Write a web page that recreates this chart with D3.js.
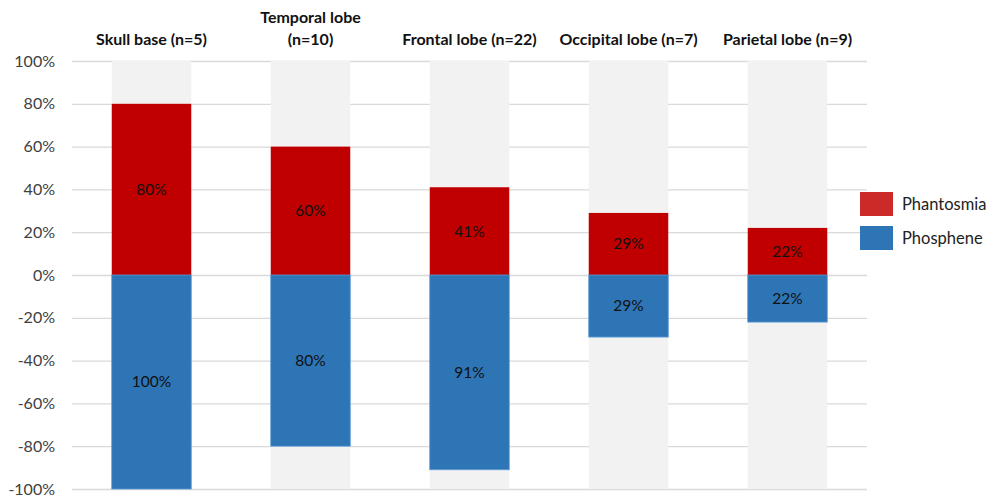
<!DOCTYPE html>
<html><head><meta charset="utf-8">
<script src="https://cdn.jsdelivr.net/npm/d3@7"></script>
<style>body{margin:0;background:#fff;} svg{display:block;font-family:Lato,"Open Sans",sans-serif;}</style>
</head><body>
<svg id="c" width="1000" height="497"></svg>
<script>
const categories = ["Skull base (n=5)", "Temporal lobe (n=10)", "Frontal lobe (n=22)", "Occipital lobe (n=7)", "Parietal lobe (n=9)"];
const categoryLines = [["Skull base (n=5)"], ["Temporal lobe", "(n=10)"], ["Frontal lobe (n=22)"], ["Occipital lobe (n=7)"], ["Parietal lobe (n=9)"]];
const phantosmia = [80, 60, 41, 29, 22];
const phosphene = [100, 80, 91, 29, 22];
const yTicks = [100, 80, 60, 40, 20, 0, -20, -40, -60, -80, -100];
const seriesNames = ["Phantosmia", "Phosphene"];

const svg = d3.select("#c");
const mLeft = 72, mRight = 867, mTop = 61, mBottom = 489;
const x = d3.scaleBand().domain(categories).range([mLeft, mRight]).paddingInner(0.5).paddingOuter(0.25);
const y = d3.scaleLinear().domain([-100, 100]).range([mBottom, mTop]);

// gridlines
svg.append("g").selectAll("line").data(yTicks).join("line")
  .attr("x1", mLeft).attr("x2", mRight)
  .attr("y1", d => y(d) + 0.5).attr("y2", d => y(d) + 0.5)
  .attr("stroke", "#d9d9d9").attr("stroke-width", 1.3);

// y axis labels
const yAxis = d3.axisLeft(y).tickValues(yTicks).tickFormat(d => d + "%").tickSize(0).tickPadding(0);
const ga = svg.append("g").attr("transform", `translate(${mLeft - 17},0)`).call(yAxis);
ga.select(".domain").remove();
ga.selectAll("text").attr("font-size", 16).attr("fill", "#404040").attr("font-family", "Lato,sans-serif");

// background bars
svg.append("g").selectAll("rect").data(categories).join("rect")
  .attr("x", d => x(d)).attr("width", x.bandwidth())
  .attr("y", y(100)).attr("height", y(-100) - y(100))
  .attr("fill", "#f2f2f2");

// phantosmia
svg.append("g").selectAll("rect").data(phantosmia).join("rect")
  .attr("x", (d, i) => x(categories[i])).attr("width", x.bandwidth())
  .attr("y", d => y(d)).attr("height", d => y(0) - y(d))
  .attr("fill", "#c00000");

// phosphene
svg.append("g").selectAll("rect").data(phosphene).join("rect")
  .attr("x", (d, i) => x(categories[i])).attr("width", x.bandwidth())
  .attr("y", y(0)).attr("height", d => y(-d) - y(0))
  .attr("fill", "#2e75b6").attr("stroke", "#5b9bd5").attr("stroke-width", 0.8);

// value labels
const lab = svg.append("g").attr("font-size", 15.5).attr("fill", "#111").attr("text-anchor", "middle");
phantosmia.forEach((v, i) => {
  lab.append("text").attr("x", x(categories[i]) + x.bandwidth() / 2).attr("y", y(v / 2)).attr("dy", "0.35em").text(v + "%");
});
phosphene.forEach((v, i) => {
  lab.append("text").attr("x", x(categories[i]) + x.bandwidth() / 2).attr("y", y(-v / 2)).attr("dy", "0.35em").text(v + "%");
});

// category labels
const cl = svg.append("g").attr("font-size", 16).attr("font-weight", "bold").attr("fill", "#111").attr("text-anchor", "middle");
categoryLines.forEach((lines, i) => {
  lines.forEach((t, j) => {
    cl.append("text").attr("x", x(categories[i]) + x.bandwidth() / 2)
      .attr("y", 45 - (lines.length - 1 - j) * 22).text(t);
  });
});

// legend
const legColors = ["#cc2929", "#2e75b6"];
const lg = svg.append("g");
seriesNames.forEach((n, i) => {
  lg.append("rect").attr("x", 860).attr("y", 192 + i * 34).attr("width", 33).attr("height", 24).attr("fill", legColors[i]);
  lg.append("text").attr("x", 902).attr("y", 204 + i * 34).attr("dy", "0.35em").attr("font-size", 16.5).attr("fill", "#222").text(n);
});
</script>
</body></html>
